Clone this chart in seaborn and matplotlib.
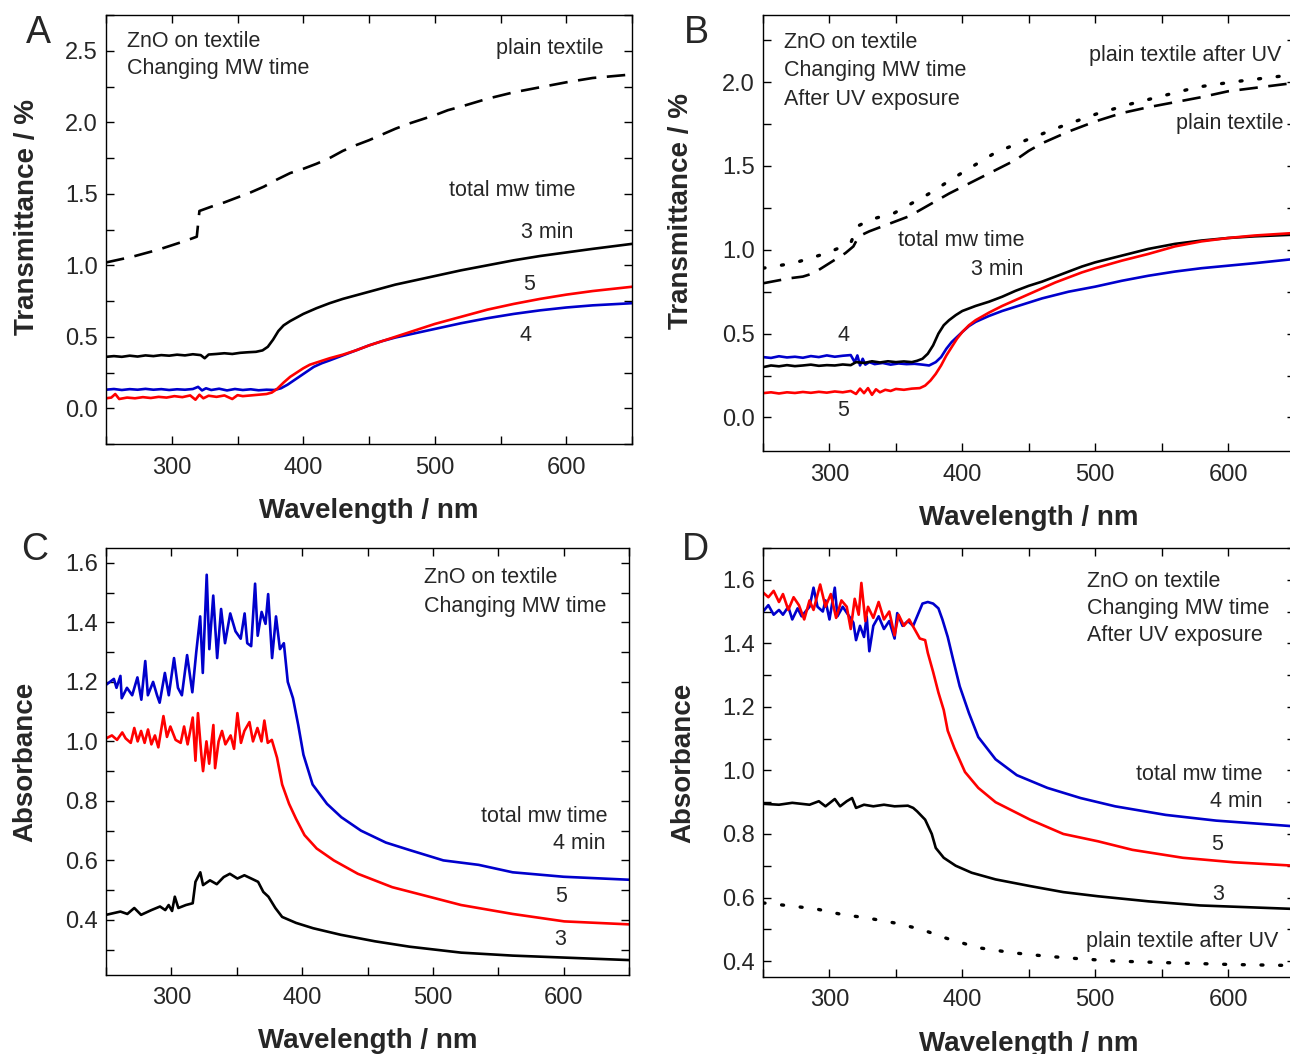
import numpy as np
import pandas as pd
import matplotlib
matplotlib.use('Agg')
import matplotlib.pyplot as plt
import seaborn as sns
from matplotlib.ticker import MultipleLocator

# ---------------- data ----------------
# Panel A : transmittance, changing MW time
a_plain_wl = [250, 260, 270, 280, 290, 300, 310, 319, 321, 330, 340, 350, 360, 370, 380, 390, 400, 410, 420,
              430, 440, 450, 460, 470, 480, 490, 500, 510, 520, 540, 560, 580, 600, 620, 650]
a_plain = [1.02, 1.04, 1.06, 1.085, 1.11, 1.14, 1.17, 1.20, 1.38, 1.41, 1.44, 1.475, 1.51, 1.55, 1.60, 1.645,
           1.675, 1.71, 1.75, 1.80, 1.84, 1.875, 1.915, 1.955, 1.99, 2.02, 2.05, 2.085, 2.11, 2.165, 2.21, 2.245,
           2.28, 2.31, 2.335]
a_3min_wl = [250, 256, 262, 268, 274, 280, 286, 292, 298, 304, 310, 316, 322, 325, 328, 334, 340, 346, 352, 358,
             364, 369, 373, 377, 381, 385, 390, 395, 400, 410, 420, 430, 440, 450, 460, 470, 480, 490, 500, 520,
             540, 560, 580, 600, 620, 650]
a_3min = [0.36, 0.365, 0.36, 0.368, 0.362, 0.37, 0.365, 0.372, 0.368, 0.375, 0.37, 0.378, 0.372, 0.35, 0.376,
          0.38, 0.385, 0.38, 0.388, 0.392, 0.395, 0.405, 0.43, 0.48, 0.54, 0.58, 0.61, 0.635, 0.66, 0.70, 0.735,
          0.765, 0.79, 0.815, 0.84, 0.865, 0.885, 0.905, 0.925, 0.965, 1.0, 1.035, 1.065, 1.09, 1.115, 1.15]
a_5min_wl = [250, 254, 257, 260, 266, 272, 278, 284, 290, 296, 302, 308, 314, 318, 321, 324, 328, 334, 340, 346,
             350, 354, 360, 366, 372, 376, 380, 385, 390, 395, 400, 405, 410, 415, 420, 430, 440, 450, 460, 470,
             480, 490, 500, 520, 540, 560, 580, 600, 620, 650]
a_5min = [0.07, 0.075, 0.1, 0.065, 0.075, 0.07, 0.078, 0.072, 0.08, 0.075, 0.085, 0.078, 0.09, 0.06, 0.095,
          0.07, 0.088, 0.08, 0.09, 0.065, 0.092, 0.085, 0.09, 0.095, 0.1, 0.11, 0.135, 0.18, 0.22, 0.25, 0.28,
          0.305, 0.32, 0.335, 0.35, 0.375, 0.405, 0.44, 0.47, 0.50, 0.53, 0.56, 0.59, 0.64, 0.69, 0.73, 0.765,
          0.795, 0.82, 0.85]
a_4min_wl = [250, 256, 262, 268, 274, 280, 286, 292, 298, 304, 310, 316, 320, 323, 326, 330, 336, 342, 348, 354,
             360, 366, 372, 378, 383, 388, 392, 396, 400, 404, 408, 414, 420, 430, 440, 450, 460, 470, 480, 490,
             500, 520, 540, 560, 580, 600, 620, 650]
a_4min = [0.13, 0.135, 0.128, 0.134, 0.13, 0.136, 0.13, 0.134, 0.128, 0.133, 0.13, 0.135, 0.15, 0.125, 0.14,
          0.128, 0.137, 0.125, 0.135, 0.128, 0.133, 0.126, 0.13, 0.128, 0.14, 0.165, 0.19, 0.215, 0.24, 0.265,
          0.29, 0.315, 0.335, 0.37, 0.405, 0.44, 0.47, 0.495, 0.515, 0.535, 0.555, 0.595, 0.63, 0.66, 0.685,
          0.705, 0.72, 0.735]

# Panel B : transmittance after UV exposure
b_plain_wl = [250, 260, 270, 280, 288, 296, 304, 312, 318, 322, 330, 340, 350, 360, 370, 380, 390, 400, 410,
              420, 430, 440, 450, 460, 470, 480, 490, 500, 520, 540, 560, 580, 600, 620, 650]
b_plain = [0.80, 0.815, 0.83, 0.84, 0.86, 0.9, 0.94, 0.98, 1.02, 1.08, 1.11, 1.14, 1.17, 1.20, 1.245, 1.29,
           1.335, 1.375, 1.415, 1.455, 1.495, 1.535, 1.59, 1.635, 1.67, 1.705, 1.735, 1.765, 1.815, 1.85, 1.88,
           1.91, 1.945, 1.965, 1.995]
b_plain_uv_wl = [250, 273, 298, 316, 321, 331, 349, 374, 400, 425, 450, 476, 501, 527, 552, 577, 603, 650]
b_plain_uv = [0.89, 0.92, 0.98, 1.04, 1.14, 1.18, 1.22, 1.33, 1.46, 1.58, 1.66, 1.74, 1.81, 1.87, 1.92, 1.97,
              2.0, 2.045]
b_3min_wl = [250, 256, 262, 268, 274, 280, 286, 292, 298, 304, 310, 316, 320, 326, 332, 338, 344, 350, 356, 362,
             366, 370, 374, 378, 382, 386, 390, 395, 400, 410, 420, 430, 440, 450, 460, 470, 480, 490, 500, 520,
             540, 560, 580, 600, 620, 650]
b_3min = [0.30, 0.31, 0.305, 0.312, 0.306, 0.31, 0.315, 0.308, 0.312, 0.31, 0.316, 0.312, 0.33, 0.325, 0.335,
          0.328, 0.335, 0.33, 0.334, 0.33, 0.338, 0.35, 0.38, 0.43, 0.5, 0.55, 0.58, 0.61, 0.635, 0.665, 0.69,
          0.72, 0.755, 0.785, 0.81, 0.84, 0.87, 0.9, 0.925, 0.965, 1.005, 1.035, 1.055, 1.07, 1.08, 1.09]
b_5min_wl = [250, 256, 262, 268, 274, 280, 286, 292, 298, 304, 310, 316, 320, 323, 326, 329, 332, 335, 338, 342,
             346, 350, 356, 362, 368, 372, 376, 380, 384, 388, 392, 396, 400, 405, 410, 420, 430, 440, 450, 460,
             470, 480, 490, 500, 520, 540, 560, 580, 600, 620, 650]
b_5min = [0.145, 0.15, 0.143, 0.15, 0.146, 0.152, 0.147, 0.153, 0.148, 0.155, 0.15, 0.158, 0.14, 0.172, 0.145,
          0.175, 0.135, 0.168, 0.15, 0.165, 0.158, 0.17, 0.165, 0.172, 0.175, 0.19, 0.22, 0.26, 0.31, 0.37, 0.42,
          0.47, 0.51, 0.55, 0.58, 0.625, 0.665, 0.70, 0.735, 0.77, 0.805, 0.835, 0.865, 0.89, 0.935, 0.975, 1.02,
          1.05, 1.07, 1.085, 1.10]
b_4min_wl = [250, 256, 262, 268, 274, 280, 286, 292, 298, 304, 310, 316, 319, 321, 323, 325, 327, 330, 334, 340,
             346, 352, 358, 364, 370, 375, 380, 384, 388, 392, 396, 400, 405, 410, 420, 430, 440, 450, 460, 470,
             480, 490, 500, 520, 540, 560, 580, 600, 620, 650]
b_4min = [0.36, 0.355, 0.365, 0.358, 0.362, 0.356, 0.366, 0.36, 0.37, 0.362, 0.368, 0.372, 0.33, 0.37, 0.31,
          0.35, 0.315, 0.33, 0.318, 0.325, 0.315, 0.322, 0.318, 0.32, 0.315, 0.31, 0.33, 0.36, 0.41, 0.45, 0.48,
          0.51, 0.545, 0.57, 0.605, 0.635, 0.66, 0.685, 0.71, 0.73, 0.75, 0.765, 0.78, 0.815, 0.845, 0.87, 0.89,
          0.905, 0.92, 0.945]

# Panel C : absorbance, changing MW time
c_4min_wl = [250, 256, 258, 261, 262, 266, 270, 274, 277, 280, 282, 286, 289, 291, 295, 298, 302, 305, 308, 312,
             316, 319, 322, 324, 327, 329, 332, 335, 338, 341, 345, 349, 353, 356, 358, 361, 364, 366, 369, 372,
             374, 377, 380, 383, 386, 389, 393, 397, 401, 408, 419, 430, 445, 464, 482, 508, 535, 561, 600, 650]
c_4min = [1.19, 1.21, 1.18, 1.22, 1.145, 1.18, 1.155, 1.215, 1.14, 1.27, 1.155, 1.2, 1.155, 1.13, 1.23, 1.155,
          1.28, 1.18, 1.155, 1.29, 1.165, 1.30, 1.42, 1.23, 1.56, 1.31, 1.49, 1.28, 1.445, 1.33, 1.43, 1.37,
          1.345, 1.43, 1.33, 1.32, 1.53, 1.355, 1.435, 1.395, 1.495, 1.28, 1.42, 1.31, 1.33, 1.2, 1.145, 1.055,
          0.955, 0.855, 0.79, 0.745, 0.70, 0.66, 0.635, 0.60, 0.585, 0.56, 0.545, 0.535]
c_5min_wl = [250, 254.5, 258.4, 262.4, 265, 268.9, 271.6, 274.2, 276.8, 279.5, 282.1, 284.7, 287.4, 290, 293.9,
             296.6, 299.2, 303.2, 307.1, 309.7, 312.4, 316.3, 318.4, 320.3, 322.9, 324.2, 326.8, 328.9, 332.1,
             333.4, 336.1, 338.7, 341.3, 345.3, 347.9, 350.5, 353.2, 355.8, 359.7, 362.4, 365.8, 368.9, 371.1,
             373.7, 376.8, 380.8, 384.7, 390, 395.3, 401.8, 411.1, 424.2, 442.6, 468.9, 495.3, 521.6, 561, 600.5,
             650]
c_5min = [1.01, 1.02, 1.005, 1.03, 1.01, 0.995, 1.045, 1.0, 1.035, 0.995, 1.04, 0.99, 1.02, 0.98, 1.085, 1.015,
          1.05, 1.005, 0.995, 1.05, 0.99, 1.08, 0.935, 1.095, 0.955, 0.90, 1.0, 0.925, 1.055, 0.91, 1.0, 1.035,
          0.99, 1.02, 0.975, 1.095, 0.995, 1.035, 1.065, 1.0, 1.045, 1.0, 1.07, 0.995, 1.005, 0.945, 0.855, 0.79,
          0.74, 0.685, 0.64, 0.60, 0.555, 0.51, 0.48, 0.45, 0.42, 0.395, 0.385]
c_3min_wl = [250, 261, 266.3, 271.6, 276.8, 284.7, 291.3, 295.3, 297.9, 300.5, 302.6, 305.3, 311.1, 316.3, 318.4,
             322.1, 324.2, 329.5, 334.7, 340, 344.7, 350.5, 355.8, 361.1, 366.3, 370.3, 374.2, 379.5, 384.7,
             395.3, 408.4, 429.5, 455.8, 482.1, 521.6, 561, 650]
c_3min = [0.417, 0.428, 0.42, 0.44, 0.417, 0.433, 0.445, 0.433, 0.45, 0.43, 0.478, 0.44, 0.45, 0.456, 0.528,
          0.56, 0.517, 0.533, 0.52, 0.544, 0.555, 0.539, 0.55, 0.539, 0.528, 0.494, 0.478, 0.44, 0.41, 0.39,
          0.372, 0.35, 0.328, 0.31, 0.29, 0.28, 0.265]

# Panel D : absorbance after UV exposure
d_4min_wl = [250, 254, 258, 262, 265, 269, 272, 276, 279, 285, 288, 291, 295, 297, 300, 304, 306, 310, 314, 318,
             320, 323, 326, 328, 330, 333, 337, 341, 345, 349, 351, 355, 359, 363, 366, 370, 374, 378, 382, 385,
             389, 393, 398, 405, 412, 425, 441, 464, 489, 515, 553, 591, 650]
d_4min = [1.50, 1.52, 1.49, 1.505, 1.49, 1.515, 1.475, 1.51, 1.485, 1.515, 1.575, 1.515, 1.50, 1.535, 1.475,
          1.575, 1.485, 1.515, 1.49, 1.465, 1.41, 1.455, 1.42, 1.485, 1.375, 1.455, 1.485, 1.445, 1.47, 1.415,
          1.495, 1.455, 1.47, 1.455, 1.485, 1.525, 1.53, 1.525, 1.51, 1.475, 1.42, 1.35, 1.265, 1.18, 1.105,
          1.035, 0.985, 0.945, 0.913, 0.887, 0.86, 0.842, 0.824]
d_5min_wl = [250, 254, 258, 262, 265, 269, 273, 277, 281, 285, 288, 293, 297, 301, 305, 309, 313, 316, 319, 322,
             324, 327, 329, 333, 337, 341, 345, 349, 352, 356, 360, 364, 368, 372, 374, 378, 382, 386, 389, 394,
             402, 412, 425, 451, 476, 502, 528, 566, 604, 650]
d_5min = [1.56, 1.545, 1.565, 1.53, 1.555, 1.505, 1.545, 1.52, 1.475, 1.535, 1.505, 1.585, 1.515, 1.555, 1.48,
          1.535, 1.515, 1.445, 1.54, 1.49, 1.59, 1.47, 1.515, 1.48, 1.53, 1.475, 1.50, 1.425, 1.49, 1.455, 1.475,
          1.445, 1.415, 1.41, 1.37, 1.31, 1.245, 1.19, 1.125, 1.07, 0.995, 0.945, 0.90, 0.845, 0.80, 0.777, 0.75,
          0.725, 0.711, 0.70]
d_3min_wl = [250, 262, 272, 285, 292, 297, 304, 308, 313, 317, 320, 326, 333, 341, 349, 359, 363, 366, 372, 377,
             380, 386, 395, 407, 425, 451, 476, 502, 540, 579, 650]
d_3min = [0.895, 0.892, 0.898, 0.892, 0.903, 0.887, 0.91, 0.887, 0.903, 0.913, 0.882, 0.892, 0.887, 0.892, 0.887,
          0.889, 0.882, 0.871, 0.845, 0.80, 0.756, 0.725, 0.70, 0.678, 0.657, 0.636, 0.617, 0.604, 0.588, 0.575,
          0.564]
d_plain_uv_wl = [250, 272, 290, 310, 328, 349, 369, 387, 412, 438, 464, 489, 515, 553, 604, 650]
d_plain_uv = [0.583, 0.573, 0.564, 0.546, 0.536, 0.52, 0.50, 0.473, 0.442, 0.426, 0.415, 0.407, 0.40, 0.395,
              0.389, 0.386]

trans_ticks = [0.0, 0.5, 1.0, 1.5, 2.0, 2.5]
trans_ticks_b = [0.0, 0.5, 1.0, 1.5, 2.0]
abs_ticks = [0.4, 0.6, 0.8, 1.0, 1.2, 1.4, 1.6]
wl_ticks = [300, 400, 500, 600]

RED = '#ff0000'
BLUE = '#0000cc'
BLACK = '#000000'
DASH = (7, 4)
DOT = (0.6, 5)

# ---------------- style ----------------
sns.set_style('ticks')
plt.rcParams['font.family'] = ['Liberation Sans', 'DejaVu Sans']
plt.rcParams['axes.linewidth'] = 1.0

fig = plt.figure(figsize=(12.9, 10.54), dpi=100)
fig.patch.set_facecolor('white')

axA = fig.add_axes([0.0822, 0.5787, 0.4078, 0.407])
axB = fig.add_axes([0.5915, 0.5721, 0.412, 0.4137])
axC = fig.add_axes([0.0822, 0.0750, 0.4054, 0.4051])
axD = fig.add_axes([0.5915, 0.0731, 0.412, 0.4070])


def curve(ax, wl, val, color, dashes=None, lw=1.9):
    df = pd.DataFrame({'wl': wl, 'val': val})
    sns.lineplot(data=df, x='wl', y='val', ax=ax, color=color, lw=lw, sort=False, estimator=None)
    line = ax.lines[-1]
    if dashes is not None:
        line.set_dashes(dashes)
        if dashes == DOT:
            line.set_dash_capstyle('round')
    return line


def style(ax, ylim, yticks, yminor, ylabel):
    ax.set_xlim(250, 650)
    ax.set_ylim(*ylim)
    ax.set_xticks(wl_ticks)
    ax.set_xticklabels([str(t) for t in wl_ticks])
    ax.xaxis.set_minor_locator(MultipleLocator(50))
    ax.set_yticks(yticks)
    ax.set_yticklabels(['%.1f' % t for t in yticks])
    ax.yaxis.set_minor_locator(MultipleLocator(yminor))
    ax.tick_params(which='both', direction='in', top=True, right=True, length=6, width=1, color='black')
    ax.tick_params(axis='y', labelsize=17, pad=6)
    ax.tick_params(axis='x', labelsize=17, pad=9)
    for s in ax.spines.values():
        s.set_color('black')
        s.set_linewidth(1.0)
    ax.set_xlabel('Wavelength / nm', fontsize=20, fontweight='bold')
    ax.set_ylabel(ylabel, fontsize=20, fontweight='bold')


def note(ax, x, y, s, ha='left'):
    ax.text(x, y, s, transform=ax.transAxes, fontsize=15.5, ha=ha, va='center')


# ---------------- panel A ----------------
curve(axA, a_plain_wl, a_plain, BLACK, DASH)
curve(axA, a_3min_wl, a_3min, BLACK)
curve(axA, a_4min_wl, a_4min, BLUE)
curve(axA, a_5min_wl, a_5min, RED)
style(axA, (-0.25, 2.75), trans_ticks, 0.25, 'Transmittance / %')
axA.xaxis.set_label_coords(0.5, -0.126)
axA.yaxis.set_label_coords(-0.125, 0.53)
note(axA, 0.04, 0.939, 'ZnO on textile')
note(axA, 0.04, 0.876, 'Changing MW time')
note(axA, 0.945, 0.921, 'plain textile', ha='right')
note(axA, 0.892, 0.592, 'total mw time', ha='right')
note(axA, 0.888, 0.492, '3 min', ha='right')
note(axA, 0.804, 0.371, '5', ha='center')
note(axA, 0.798, 0.254, '4', ha='center')

# ---------------- panel B ----------------
curve(axB, b_plain_uv_wl, b_plain_uv, BLACK, DOT, lw=2.4)
curve(axB, b_plain_wl, b_plain, BLACK, DASH)
curve(axB, b_4min_wl, b_4min, BLUE)
curve(axB, b_3min_wl, b_3min, BLACK)
curve(axB, b_5min_wl, b_5min, RED)
style(axB, (-0.2, 2.4), trans_ticks_b, 0.25, 'Transmittance / %')
axB.xaxis.set_label_coords(0.5, -0.124)
axB.yaxis.set_label_coords(-0.13, 0.55)
note(axB, 0.0395, 0.936, 'ZnO on textile')
note(axB, 0.0395, 0.872, 'Changing MW time')
note(axB, 0.0395, 0.805, 'After UV exposure')
note(axB, 0.975, 0.908, 'plain textile after UV', ha='right')
note(axB, 0.98, 0.75, 'plain textile', ha='right')
note(axB, 0.254, 0.482, 'total mw time')
note(axB, 0.489, 0.417, '3 min', ha='right')
note(axB, 0.1505, 0.264, '4', ha='center')
note(axB, 0.1505, 0.092, '5', ha='center')

# ---------------- panel C ----------------
curve(axC, c_3min_wl, c_3min, BLACK)
curve(axC, c_5min_wl, c_5min, RED)
curve(axC, c_4min_wl, c_4min, BLUE)
style(axC, (0.215, 1.65), abs_ticks, 0.1, 'Absorbance')
axC.xaxis.set_label_coords(0.5, -0.124)
axC.yaxis.set_label_coords(-0.13, 0.5)
note(axC, 0.608, 0.93, 'ZnO on textile')
note(axC, 0.608, 0.864, 'Changing MW time')
note(axC, 0.958, 0.372, 'total mw time', ha='right')
note(axC, 0.956, 0.307, '4 min', ha='right')
note(axC, 0.87, 0.183, '5', ha='center')
note(axC, 0.868, 0.082, '3', ha='center')

# ---------------- panel D ----------------
curve(axD, d_plain_uv_wl, d_plain_uv, BLACK, DOT, lw=2.4)
curve(axD, d_3min_wl, d_3min, BLACK)
curve(axD, d_4min_wl, d_4min, BLUE)
curve(axD, d_5min_wl, d_5min, RED)
style(axD, (0.35, 1.70), abs_ticks, 0.1, 'Absorbance')
axD.xaxis.set_label_coords(0.5, -0.126)
axD.yaxis.set_label_coords(-0.126, 0.5)
note(axD, 0.61, 0.923, 'ZnO on textile')
note(axD, 0.61, 0.858, 'Changing MW time')
note(axD, 0.61, 0.795, 'After UV exposure')
note(axD, 0.939, 0.473, 'total mw time', ha='right')
note(axD, 0.939, 0.41, '4 min', ha='right')
note(axD, 0.854, 0.308, '5', ha='center')
note(axD, 0.856, 0.193, '3', ha='center')
note(axD, 0.969, 0.082, 'plain textile after UV', ha='right')

# panel letters
for lbl, (fx, fy) in zip(['A', 'B', 'C', 'D'],
                         [(0.0295, 0.9687), (0.540, 0.9687), (0.027, 0.478), (0.539, 0.478)]):
    fig.text(fx, fy, lbl, fontsize=27, ha='center', va='center')

fig.savefig('out.png', dpi=100, facecolor='white')
